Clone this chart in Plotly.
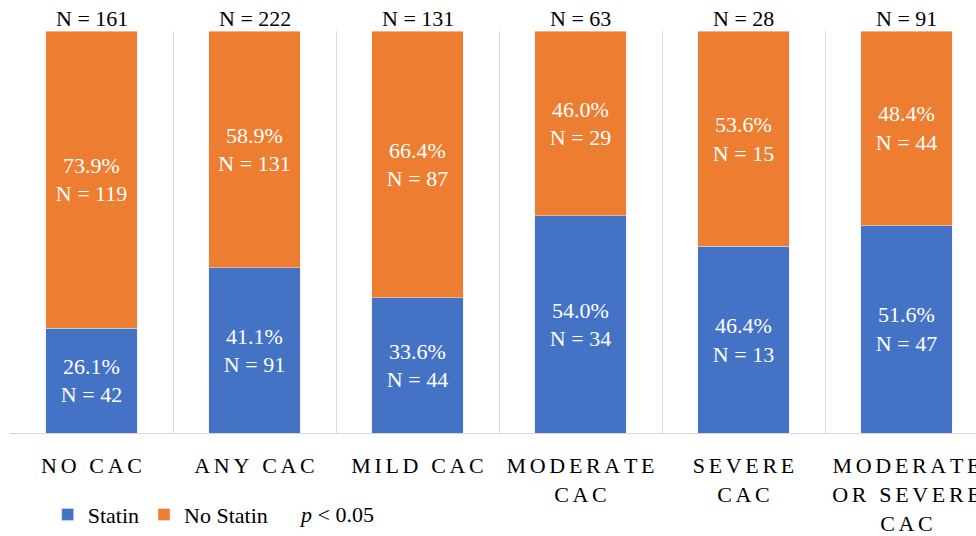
import plotly.graph_objects as go

# Statin use by coronary artery calcium (CAC) group
categories = ["NO CAC", "ANY CAC", "MILD CAC", "MODERATE<br>CAC", "SEVERE<br>CAC",
              "MODERATE<br>OR SEVERE<br>CAC"]
statin_pct = [26.1, 41.1, 33.6, 54.0, 46.4, 51.6]
statin_n = [42, 91, 44, 34, 13, 47]
no_statin_pct = [73.9, 58.9, 66.4, 46.0, 53.6, 48.4]
no_statin_n = [119, 131, 87, 29, 15, 44]

totals = [a + b for a, b in zip(statin_n, no_statin_n)]

BLUE = "#4472C4"
ORANGE = "#ED7D31"
GRID = "#D9D9D9"
FONT = "'Liberation Serif', 'Times New Roman', Times, serif"
SP = "\u2006"  # narrow space used for letter spacing of axis labels


def spaced(label):
    return "<br>".join(SP.join(list(line)) for line in label.split("<br>"))


xpos = list(range(len(categories)))

fig = go.Figure()
fig.add_trace(go.Bar(
    name="Statin", x=xpos, y=statin_pct, marker_color=BLUE,
    text=[f"{p:.1f}%<br>N = {n}" for p, n in zip(statin_pct, statin_n)],
    textposition="inside", insidetextanchor="middle", constraintext="none",
    textfont=dict(family=FONT, size=22, color="white"),
))
fig.add_trace(go.Bar(
    name="No Statin", x=xpos, y=no_statin_pct, marker_color=ORANGE,
    text=[f"{p:.1f}%<br>N = {n}" for p, n in zip(no_statin_pct, no_statin_n)],
    textposition="inside", insidetextanchor="middle", constraintext="none",
    textfont=dict(family=FONT, size=22, color="white"),
))

# group totals above each stacked bar
for x, t, a, b in zip(xpos, totals, statin_pct, no_statin_pct):
    fig.add_annotation(x=x, y=a + b, xref="x", yref="y", text=f"N = {t}",
                       showarrow=False, yanchor="bottom", yshift=-2,
                       font=dict(family=FONT, size=22, color="black"))

fig.add_annotation(x=0.338, y=-0.203, xref="paper", yref="paper",
                   text="<i>p</i> &lt; 0.05", showarrow=False,
                   xanchor="center", yanchor="middle",
                   font=dict(family=FONT, size=22, color="black"))

fig.update_layout(
    width=976, height=536,
    margin=dict(l=10, r=0, t=31, b=96),
    barmode="stack", bargap=0.44,
    plot_bgcolor="white", paper_bgcolor="white",
    font=dict(family=FONT, size=22, color="black"),
    legend=dict(orientation="h", x=0.039, y=-0.203, xanchor="left",
                yanchor="middle",
                font=dict(family=FONT, size=22, color="black"),
                traceorder="normal"),
    xaxis=dict(
        tickmode="array", tickvals=xpos,
        ticktext=[spaced(c) for c in categories],
        range=[-0.5, -0.5 + 966 / 163],
        showgrid=False, showline=True, linecolor=GRID, linewidth=1,
        ticks="", zeroline=False, automargin=False,
        ticklabeloverflow="allow", ticklabelstandoff=13,
        tickfont=dict(family=FONT, size=22, color="black"),
        minor=dict(tick0=-0.5, dtick=1, showgrid=True, gridcolor=GRID,
                   gridwidth=1, ticks=""),
    ),
    yaxis=dict(range=[0, 100], visible=False, showgrid=False),
)

fig.write_html("out.html")
